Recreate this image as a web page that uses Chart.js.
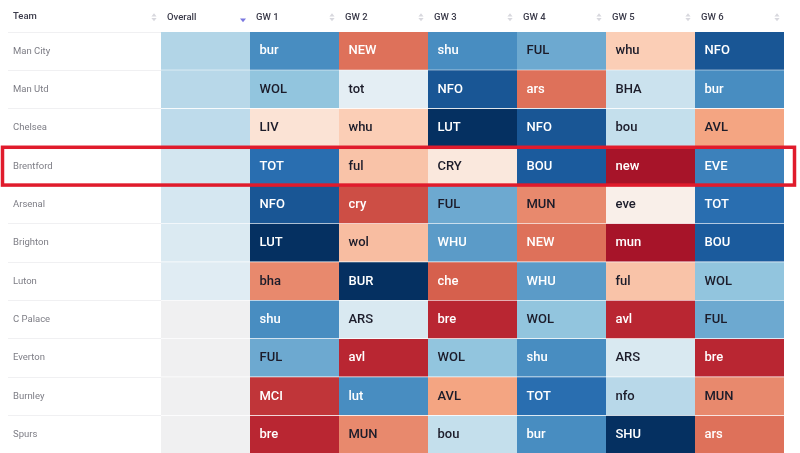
<!DOCTYPE html>
<html>
<head>
<meta charset="utf-8">
<style>
  html, body { margin: 0; padding: 0; background: #fff; }
  #wrap { width: 800px; height: 453px; overflow: hidden; }
  canvas { display: block; }
</style>
<script src="https://cdn.jsdelivr.net/npm/chart.js@4/dist/chart.umd.min.js"></script>
</head>
<body>
<div id="wrap"><canvas id="heat" width="800" height="454"></canvas></div>
<script>
var teams = ['Man City', 'Man Utd', 'Chelsea', 'Brentford', 'Arsenal', 'Brighton', 'Luton', 'C Palace', 'Everton', 'Burnley', 'Spurs'];
var columns = ['Overall', 'GW 1', 'GW 2', 'GW 3', 'GW 4', 'GW 5', 'GW 6'];

// overall rating, no rating for the lower teams
var overall = [6.5, 6.4, 6.3, 5.95, 5.9, 5.75, 5.6, null, null, null, null];

var gw1 = ['bur', 'WOL', 'LIV', 'TOT', 'NFO', 'LUT', 'bha', 'shu', 'FUL', 'MCI', 'bre'];
var gw2 = ['NEW', 'tot', 'whu', 'ful', 'cry', 'wol', 'BUR', 'ARS', 'avl', 'lut', 'MUN'];
var gw3 = ['shu', 'NFO', 'LUT', 'CRY', 'FUL', 'WHU', 'che', 'bre', 'WOL', 'AVL', 'bou'];
var gw4 = ['FUL', 'ars', 'NFO', 'BOU', 'MUN', 'NEW', 'WHU', 'WOL', 'shu', 'TOT', 'bur'];
var gw5 = ['whu', 'BHA', 'bou', 'new', 'eve', 'mun', 'ful', 'avl', 'ARS', 'nfo', 'SHU'];
var gw6 = ['NFO', 'bur', 'AVL', 'EVE', 'TOT', 'BOU', 'WOL', 'FUL', 'bre', 'MUN', 'ars'];

// ease of fixture, 0 is hardest (dark red), 10 is easiest (navy)
var gw1Ease = [8, 7, 4.3, 8.8, 9.3, 10, 2.6, 8, 7.5, 1.4, 1.2];
var gw2Ease = [2.25, 5.5, 3.75, 3.55, 1.75, 3.45, 10, 5.8, 1.2, 8, 2.6];
var gw3Ease = [8, 9.3, 10, 4.45, 7.5, 7.75, 2, 1.2, 7, 3, 6.2];
var gw4Ease = [7.5, 2.25, 9.3, 9.2, 2.6, 2.25, 7.75, 7, 8, 8.8, 8];
var gw5Ease = [3.75, 6.1, 6.2, 0.85, 4.7, 0.85, 3.55, 1.2, 5.8, 6.4, 10];
var gw6Ease = [9.3, 8, 3, 8.3, 8.8, 9.2, 7, 7.5, 1.2, 2.6, 2.25];

var fixtures = [null, gw1, gw2, gw3, gw4, gw5, gw6];
var ratings = [overall, gw1Ease, gw2Ease, gw3Ease, gw4Ease, gw5Ease, gw6Ease];

var FONT = 'Roboto, sans-serif';
var stops = [[103,0,31], [178,24,43], [214,96,77], [244,165,130], [253,219,199], [247,247,247], [209,229,240], [146,197,222], [72,141,193], [33,102,172], [5,48,97]];

function easeColor(v) {
  if (v === null) return '#f0f0f1';
  var i = Math.min(Math.floor(v), 9), f = v - i;
  var c = stops[i].map(function(s, k) { return Math.round(s + (stops[i + 1][k] - s) * f); });
  return 'rgb(' + c.join(',') + ')';
}

function sortArrow(ctx, x, y, up, color, size) {
  var h = size * 1.25;
  ctx.fillStyle = color;
  ctx.beginPath();
  ctx.moveTo(x - size, y);
  ctx.lineTo(x + size, y);
  ctx.lineTo(x, up ? y - h : y + h);
  ctx.closePath();
  ctx.fill();
}

// fixture names inside the cells
var cellLabels = {
  id: 'cellLabels',
  afterDatasetsDraw: function(chart) {
    var ctx = chart.ctx;
    ctx.save();
    ctx.font = '500 13px ' + FONT;
    ctx.textBaseline = 'middle';
    ctx.textAlign = 'left';
    fixtures.forEach(function(names, d) {
      if (!names) return;
      chart.getDatasetMeta(d).data.forEach(function(bar, i) {
        var v = ratings[d][i];
        ctx.fillStyle = (v < 2.5 || v > 7.6) ? '#ffffff' : '#1c1c2a';
        ctx.fillText(names[i], bar.base + 9.5, bar.y);
      });
    });
    ctx.restore();
  }
};

// header extras and the red box round Brentford
var tableExtras = {
  id: 'tableExtras',
  afterDraw: function(chart) {
    var ctx = chart.ctx, x = chart.scales.x, y = chart.scales.y;
    ctx.save();
    ctx.fillStyle = '#3b3b4a';
    ctx.font = '500 9.5px ' + FONT;
    ctx.textBaseline = 'middle';
    ctx.fillText('Team', 13, 17);

    var grey = '#d8d8de';
    sortArrow(ctx, x.left - 7, 16.5, true, grey, 2.6);
    sortArrow(ctx, x.left - 7, 18, false, grey, 2.6);
    for (var c = 0; c < columns.length; c++) {
      var ax = x.getPixelForValue(c + 1) - 7;
      if (c === 0) {
        sortArrow(ctx, ax, 18.5, false, '#7b78e0', 3);
      } else {
        sortArrow(ctx, ax, 16.5, true, grey, 2.6);
        sortArrow(ctx, ax, 18, false, grey, 2.6);
      }
    }

    var mid = y.getPixelForValue(teams.indexOf('Brentford'));
    ctx.strokeStyle = '#e01b2c';
    ctx.lineWidth = 3.5;
    ctx.strokeRect(2.5, mid - 19, 792, 37.8);
    ctx.restore();
  }
};

new Chart(document.getElementById('heat'), {
  type: 'bar',
  data: {
    labels: teams,
    datasets: ratings.map(function(vals, d) {
      return {
        label: columns[d],
        data: vals.map(function() { return 1; }),
        backgroundColor: vals.map(easeColor),
        borderColor: 'rgba(255,255,255,0.75)',
        borderWidth: { top: 0, left: 0, right: 0, bottom: 1 },
        borderSkipped: false,
        barPercentage: 1,
        categoryPercentage: 1
      };
    })
  },
  options: {
    indexAxis: 'y',
    responsive: false,
    animation: false,
    layout: { padding: { left: 13, right: 16, top: 0, bottom: 0 } },
    plugins: { legend: { display: false }, tooltip: { enabled: false } },
    scales: {
      x: {
        position: 'top',
        stacked: true,
        min: 0,
        max: columns.length,
        border: { display: false },
        grid: { display: false, drawTicks: false },
        afterFit: function(scale) {
          scale.height = 32;
          scale.paddingLeft = 0;
          scale.paddingRight = 0;
        },
        ticks: {
          stepSize: 1,
          maxRotation: 0,
          autoSkip: false,
          align: 'start',
          labelOffset: 6,
          padding: 9,
          color: '#3b3b4a',
          font: { family: FONT, size: 9.5, weight: '500' },
          callback: function(v) { return columns[v] || ''; }
        }
      },
      y: {
        stacked: true,
        border: { display: false },
        grid: { offset: true, color: '#f0f0f2', drawOnChartArea: false, tickLength: 153 },
        afterFit: function(scale) {
          scale.width = 148;
          scale.paddingTop = 0;
          scale.paddingBottom = 0;
        },
        ticks: {
          crossAlign: 'far',
          color: '#7d7d85',
          font: { family: FONT, size: 9.5 }
        }
      }
    }
  },
  plugins: [cellLabels, tableExtras]
});
</script>
</body>
</html>
